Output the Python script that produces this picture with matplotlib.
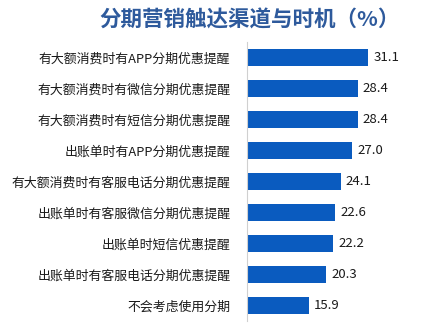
import matplotlib
matplotlib.use('Agg')
import matplotlib.pyplot as plt

plt.rcParams['font.family'] = ['Noto Sans CJK SC', 'DejaVu Sans']

# data, top to bottom
labels = ['有大额消费时有APP分期优惠提醒', '有大额消费时有微信分期优惠提醒',
          '有大额消费时有短信分期优惠提醒', '出账单时有APP分期优惠提醒',
          '有大额消费时有客服电话分期优惠提醒', '出账单时有客服微信分期优惠提醒',
          '出账单时短信优惠提醒', '出账单时有客服电话分期优惠提醒', '不会考虑使用分期']
values = [31.1, 28.4, 28.4, 27.0, 24.1, 22.6, 22.2, 20.3, 15.9]
title = '分期营销触达渠道与时机（%）'

fig = plt.figure(figsize=(4.42, 3.26), dpi=100)
ax = fig.add_axes([247/442, 5/326, 187/442, 279/326])

y = list(range(len(labels)))
ax.barh(y, values, height=0.55, color='#0A5BBF')
for yi, v in zip(y, values):
    ax.text(v + 1.3, yi, '%.1f' % v, va='center', ha='left', fontsize=9.5, color='#1A1A1A')

ax.set_xlim(0, 48)
ax.set_ylim(8.5, -0.5)
ax.set_yticks(y)
ax.set_yticklabels(labels, fontsize=9.3, color='#1A1A1A')
ax.tick_params(axis='y', length=0, pad=12)
ax.set_xticks([])
for s in ['top', 'right', 'bottom']:
    ax.spines[s].set_visible(False)
ax.spines['left'].set_color('#D0D0D0')
ax.spines['left'].set_linewidth(0.8)

fig.text(250/442, 1 - 20/326, title, ha='center', va='center', fontsize=15.5,
         fontweight='bold', color='#2E5A9C')

fig.savefig('out.png', dpi=100)
